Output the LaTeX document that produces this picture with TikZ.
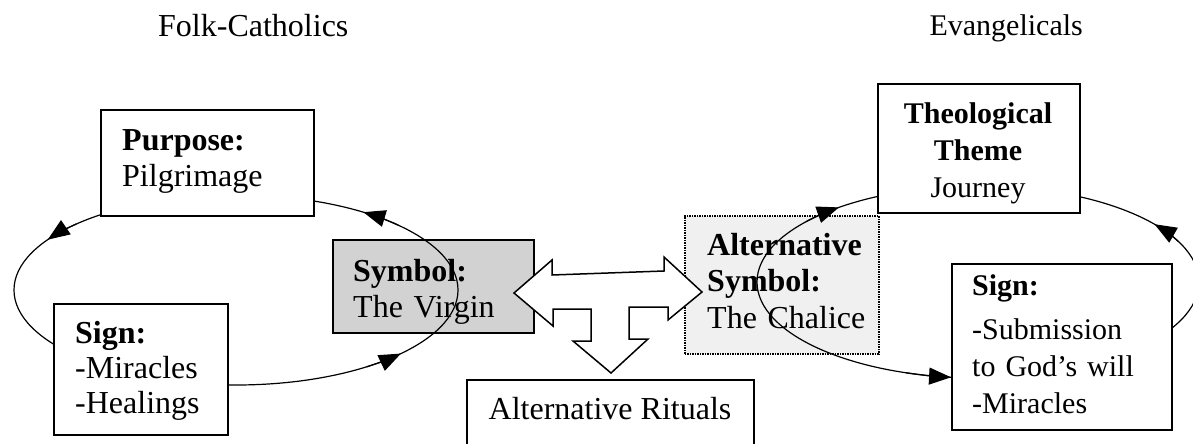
\documentclass[tikz,border=0pt]{standalone}
\usepackage{fontspec}
\setmainfont{Liberation Serif}
\usetikzlibrary{arrows.meta,calc}
\begin{document}
\begin{tikzpicture}[x=1pt,y=1pt,
  box/.style={draw=black, line width=1.5pt, fill=white, inner sep=0pt, anchor=north west},
  shaded/.style={box, fill=gray!35},
  lightshaded/.style={box, fill=gray!12, densely dotted},
  cycleline/.style={line width=1.2pt},
  tipline/.style={line width=1.2pt, -{Triangle[length=22pt,width=17pt]}},
  big/.style={font=\fontsize{32}{36.5}\selectfont},
  small/.style={font=\fontsize{30}{37}\selectfont},
  txt/.style={inner sep=0pt, anchor=base west, align=left, text width=240pt},
  ]
\useasboundingbox (0,0) rectangle (1193,-444);
\clip (0,0) rectangle (1193,-444);

% column headings
\node[big, inner sep=0pt, anchor=base west] (folk) at (158,-37) {Folk-Catholics};
\node[small, inner sep=0pt, anchor=base east] (evan) at (1083,-36) {Evangelicals};

% shaded symbol boxes
\node[shaded, minimum width=201pt, minimum height=93pt] (symbol) at (332,-239) {};
\node[lightshaded, minimum width=194pt, minimum height=138pt] (alt) at (684,-215) {};

% block arrow between the symbols, branching down to the rituals
\draw[line width=1.5pt, fill=white, line join=miter]
  (514,-293) -- (552,-260) -- (552,-275) -- (664,-271) -- (664,-257) -- (702,-292)
  -- (668,-320) -- (668,-307) -- (629,-307) -- (629,-339) -- (648,-339) -- (611,-373)
  -- (573,-341) -- (591,-341) -- (591,-309) -- (553,-309) -- (553,-326) -- cycle;

% the two cycles
\coordinate (lc) at (236,-290);
\coordinate (rc) at (978,-282);
\draw[cycleline] (lc) ellipse[x radius=222, y radius=95];
\draw[cycleline] (rc) ellipse[x radius=221, y radius=96];

\draw[tipline] ($(lc)+(43:222 and 95)$) arc[start angle=43, end angle=55, x radius=222, y radius=95];
\draw[tipline] ($(lc)+(136:222 and 95)$) arc[start angle=136, end angle=148, x radius=222, y radius=95];
\draw[tipline] ($(lc)+(306:222 and 95)$) arc[start angle=306, end angle=318, x radius=222, y radius=95];

\draw[tipline] ($(rc)+(141:221 and 96)$) arc[start angle=141, end angle=129, x radius=221, y radius=96];
\draw[tipline] ($(rc)+(25:221 and 96)$) arc[start angle=25, end angle=37, x radius=221, y radius=96];
\draw[tipline] ($(rc)+(251:221 and 96)$) arc[start angle=251, end angle=263, x radius=221, y radius=96];

% white boxes on the cycles
\node[box, minimum width=213pt, minimum height=106pt] (purpose) at (100,-109) {};
\node[box, minimum width=174pt, minimum height=131pt] (signL) at (53,-303) {};
\node[box, minimum width=202pt, minimum height=129pt] (theo) at (877,-83) {};
\node[box, minimum width=220pt, minimum height=166pt] (signR) at (951,-263) {};
\node[box, minimum width=287pt, minimum height=100pt] (rituals) at (466,-379) {};

% box texts
\node[big, txt] (purposeT) at (122,-150) {\textbf{Purpose:}\\Pilgrimage};
\node[big, txt, font=\fontsize{32}{35}\selectfont] (signLT) at (75,-343) {\textbf{Sign:}\\-Miracles\\-Healings};
\node[big, txt, font=\fontsize{32}{36}\selectfont] (symbolT) at (353,-281) {\textbf{Symbol:}\\The Virgin};
\node[big, txt] (altT) at (707,-255) {\textbf{Alternative}\\\textbf{Symbol:}\\The Chalice};
\node[small, txt, align=center, text width=202pt, anchor=base] (theoT) at (978,-123) {\textbf{Theological}\\\textbf{Theme}\\Journey};
\node[small, txt] (signRT) at (972,-295) {\textbf{Sign:}\\[7pt]-Submission\\to God’s will\\-Miracles};
\node[big, inner sep=0pt, anchor=base] (ritualsT) at (610,-419) {Alternative Rituals};
\end{tikzpicture}
\end{document}
